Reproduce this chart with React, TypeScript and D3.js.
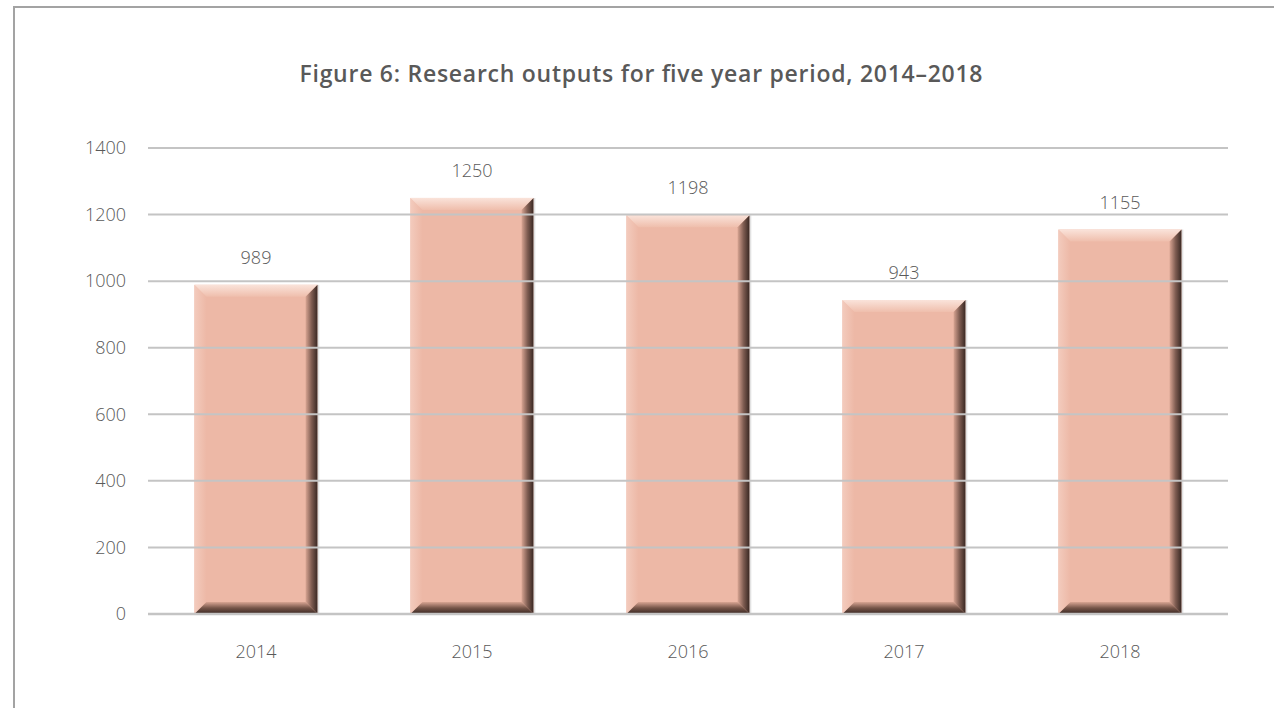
import * as d3 from "d3";

const years = ["2014", "2015", "2016", "2017", "2018"];
const outputs = [989, 1250, 1198, 943, 1155];
const yTicks = [0, 200, 400, 600, 800, 1000, 1200, 1400];
const title = "Figure 6: Research outputs for five year period, 2014–2018";

export default function App() {
  const width = 1274;
  const height = 708;
  const margin = { top: 148, right: 46, bottom: 94, left: 148 };

  const x = d3
    .scaleBand<string>()
    .domain(years)
    .range([margin.left, width - margin.right])
    .paddingInner(0.43)
    .paddingOuter(0.215);

  const y = d3
    .scaleLinear()
    .domain([0, 1400])
    .range([height - margin.bottom, margin.top]);

  const b = 12;
  const textColor = "#595959";
  const font = "'Open Sans', 'Liberation Sans', sans-serif";

  return (
    <svg
      width={width}
      height={height}
      style={{ position: "absolute", left: 0, top: 0, background: "#fff" }}
    >
      <defs>
        <linearGradient id="gTop" x1="0" y1="0" x2="0" y2="1">
          <stop offset="0" stopColor="#fae3da" />
          <stop offset="1" stopColor="#efbeac" />
        </linearGradient>
        <linearGradient id="gLeft" x1="0" y1="0" x2="1" y2="0">
          <stop offset="0" stopColor="#f3cbbd" />
          <stop offset="1" stopColor="#edb8a6" />
        </linearGradient>
        <linearGradient id="gRight" x1="0" y1="0" x2="1" y2="0">
          <stop offset="0" stopColor="#d9a593" />
          <stop offset="0.5" stopColor="#7e5c51" />
          <stop offset="1" stopColor="#382722" />
        </linearGradient>
        <linearGradient id="gBottom" x1="0" y1="0" x2="0" y2="1">
          <stop offset="0" stopColor="#d9a593" />
          <stop offset="0.5" stopColor="#765549" />
          <stop offset="1" stopColor="#382722" />
        </linearGradient>
      </defs>

      {/* outer frame */}
      <path d={`M14,${height} V7 H${width}`} fill="none" stroke="#a3a3a3" strokeWidth={2} />

      <text
        x={641}
        y={82}
        textAnchor="middle"
        fontFamily={font}
        fontWeight={600}
        fontSize={23}
        fill={textColor}
        textLength={683}
        lengthAdjust="spacing"
      >
        {title}
      </text>

      {years.map((yr, i) => {
        const x0 = x(yr)!;
        const x1 = x0 + x.bandwidth();
        const y0 = y(outputs[i]);
        const y1 = y(0);
        return (
          <g key={yr}>
            <rect x={x0} y={y0} width={x1 - x0} height={y1 - y0} fill="#edb8a6" />
            <polygon
              points={`${x0},${y0} ${x0 + b},${y0 + b} ${x0 + b},${y1 - b} ${x0},${y1}`}
              fill="url(#gLeft)"
            />
            <polygon
              points={`${x0},${y0} ${x1},${y0} ${x1 - b},${y0 + b} ${x0 + b},${y0 + b}`}
              fill="url(#gTop)"
            />
            <polygon
              points={`${x1},${y0} ${x1},${y1} ${x1 - b},${y1 - b} ${x1 - b},${y0 + b}`}
              fill="url(#gRight)"
            />
            <polygon
              points={`${x0},${y1} ${x1},${y1} ${x1 - b},${y1 - b} ${x0 + b},${y1 - b}`}
              fill="url(#gBottom)"
            />
            <line x1={x1 + 1} x2={x1 + 1} y1={y0} y2={y1} stroke="#e2e2e2" strokeWidth={1.5} />
            <text
              x={(x0 + x1) / 2}
              y={y0 - 21}
              textAnchor="middle"
              fontFamily={font}
              fontWeight={300}
              fontSize={18}
              fill={textColor}
            >
              {outputs[i]}
            </text>
          </g>
        );
      })}

      {yTicks.map((t) => (
        <g key={t}>
          <line
            x1={margin.left}
            x2={width - margin.right}
            y1={y(t)}
            y2={y(t)}
            stroke="#c4c4c4"
            strokeWidth={t === 0 ? 2.5 : 2}
          />
          <text
            x={126}
            y={y(t)}
            dy="0.35em"
            textAnchor="end"
            fontFamily={font}
            fontWeight={300}
            fontSize={18}
            fill={textColor}
          >
            {t}
          </text>
        </g>
      ))}

      {years.map((yr) => (
        <text
          key={yr}
          x={x(yr)! + x.bandwidth() / 2}
          y={658}
          textAnchor="middle"
          fontFamily={font}
          fontWeight={300}
          fontSize={18}
          fill={textColor}
        >
          {yr}
        </text>
      ))}
    </svg>
  );
}
